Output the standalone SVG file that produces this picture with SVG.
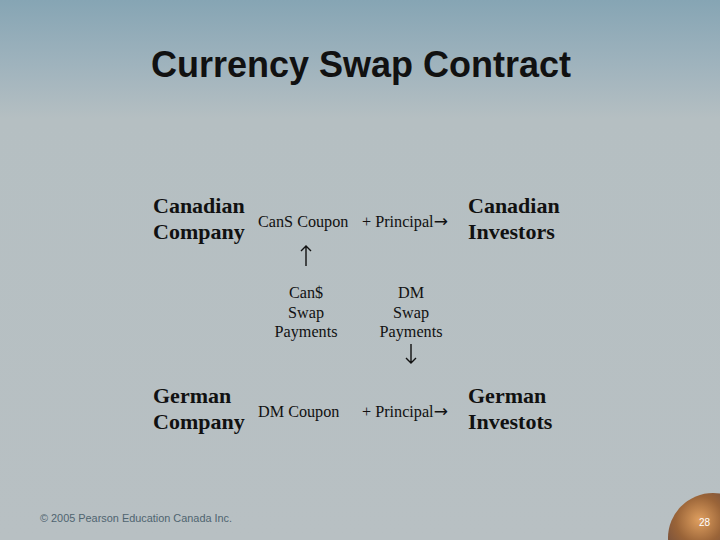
<svg xmlns="http://www.w3.org/2000/svg" width="720" height="540" viewBox="0 0 720 540">
<defs>
<linearGradient id="bg" x1="0" y1="0" x2="0" y2="1">
<stop offset="0" stop-color="#86a5b4"/>
<stop offset="0.12" stop-color="#9fb3bd"/>
<stop offset="0.22" stop-color="#b5bfc2"/>
<stop offset="1" stop-color="#b8c0c3"/>
</linearGradient>
<radialGradient id="ball" cx="0.35" cy="0.3" r="0.75">
<stop offset="0" stop-color="#e0a060"/>
<stop offset="0.35" stop-color="#9a6438"/>
<stop offset="0.8" stop-color="#5a4040"/>
<stop offset="1" stop-color="#4a3a44"/>
</radialGradient>
<style>
.t{font-family:"Liberation Sans",Arial,sans-serif;font-weight:bold;font-size:36px;fill:#111}
.b{font-family:"Liberation Serif","Times New Roman",serif;font-weight:bold;font-size:22px;fill:#111}
.r{font-family:"Liberation Serif","Times New Roman",serif;font-size:16.2px;fill:#111}
.ar{font-family:"DejaVu Sans",sans-serif;font-size:17px}
.f{font-family:"Liberation Sans",Arial,sans-serif;font-size:10.9px;fill:#4f6470}
.n{font-family:"Liberation Sans",Arial,sans-serif;font-size:10px;fill:#fff}
.ln{stroke:#111;stroke-width:1.4;fill:none}
</style>
</defs>
<rect width="720" height="540" fill="url(#bg)"/>
<text class="t" x="361" y="77" text-anchor="middle">Currency Swap Contract</text>

<g id="canadian-company">
<text class="b" x="153" y="213">Canadian</text>
<text class="b" x="153" y="239">Company</text>
</g>
<g id="canadian-investors">
<text class="b" x="468" y="213">Canadian</text>
<text class="b" x="468" y="239">Investors</text>
</g>
<g id="german-company">
<text class="b" x="153" y="403">German</text>
<text class="b" x="153" y="429">Company</text>
</g>
<g id="german-investors">
<text class="b" x="468" y="403">German</text>
<text class="b" x="468" y="429">Investots</text>
</g>

<g id="connectors">
<text class="r" x="258" y="227">CanS Coupon</text>
<text class="r" x="362" y="227">+ Principal<tspan class="ar">→</tspan></text>
<path class="ln" d="M306 266V246M301 251L306 246L311 251"/>
<g text-anchor="middle">
<text class="r" x="306" y="298">Can$</text>
<text class="r" x="306" y="318">Swap</text>
<text class="r" x="306" y="337">Payments</text>
<text class="r" x="411" y="298">DM</text>
<text class="r" x="411" y="318">Swap</text>
<text class="r" x="411" y="337">Payments</text>
</g>
<path class="ln" d="M411 344V363M406 358L411 363L416 358"/>
<text class="r" x="258" y="417">DM Coupon</text>
<text class="r" x="362" y="417">+ Principal<tspan class="ar">→</tspan></text>
</g>

<text class="f" x="40" y="522">© 2005 Pearson Education Canada Inc.</text>
<circle cx="713" cy="538" r="45" fill="url(#ball)"/>
<text class="n" x="699" y="526">28</text>
</svg>
